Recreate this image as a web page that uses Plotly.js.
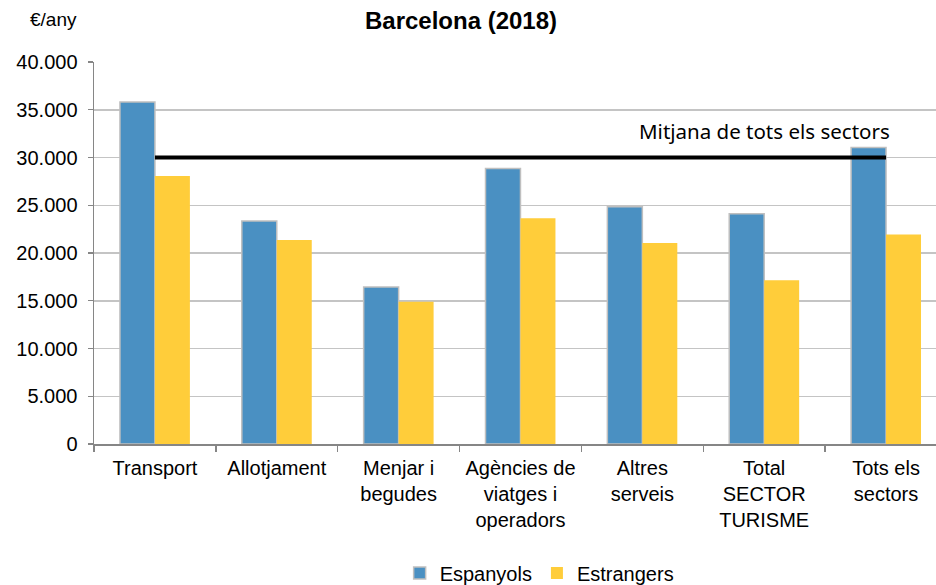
<!DOCTYPE html>
<html>
<head>
<meta charset="utf-8">
<script src="https://cdn.plot.ly/plotly-3.0.1.min.js"></script>
<style>html,body{margin:0;padding:0;background:#fff}#chart{width:936px;height:585px}</style>
</head>
<body>
<div id="chart"></div>
<script>
var categories = ["Transport", "Allotjament", "Menjar i<br>begudes", "Agències de<br>viatges i<br>operadors", "Altres<br>serveis", "Total<br>SECTOR<br>TURISME", "Tots els<br>sectors"];
var espanyols = [35800, 23350, 16450, 28850, 24850, 24100, 31050];
var estrangers = [28050, 21350, 14900, 23650, 21050, 17150, 21950];
var meanValue = 30000;
var meanLabel = "Mitjana de tots els sectors";
var seriesNames = ["Espanyols", "Estrangers"];
var titleText = "<b>Barcelona (2018)</b>";
var unitText = "€/any";

var font = "Liberation Sans, Arial, sans-serif";

var traces = [
  {type: "bar", name: seriesNames[0], x: categories, y: espanyols,
   marker: {color: "#4a90c2", line: {color: "#bfbfbf", width: 1.5}}},
  {type: "bar", name: seriesNames[1], x: categories, y: estrangers,
   marker: {color: "#ffcd3a", line: {width: 0}}},
  {type: "scatter", mode: "lines", x: [categories[0], categories[categories.length - 1]],
   y: [meanValue, meanValue], line: {color: "#000", width: 4}, showlegend: false, hoverinfo: "skip"}
];

var layout = {
  width: 936, height: 585,
  margin: {l: 94, r: 0, t: 62, b: 141, autoexpand: false},
  paper_bgcolor: "#fff", plot_bgcolor: "#fff",
  separators: ",.",
  font: {family: font, size: 20, color: "#000"},
  barmode: "group", bargap: 0.426, bargroupgap: 0,
  showlegend: true,
  legend: {orientation: "h", x: 0.363, xanchor: "left", y: -0.338, yanchor: "middle",
           font: {family: font, size: 20}, itemwidth: 30, traceorder: "normal"},
  xaxis: {type: "category", range: [-0.5, 6.41], showgrid: false, automargin: false,
          showline: true, linecolor: "#868686", linewidth: 1.5,
          ticks: "outside", tickson: "boundaries", ticklen: 6, tickcolor: "#868686", tickwidth: 1.3,
          ticklabelstandoff: 5,
          tickfont: {family: font, size: 20}, fixedrange: true},
  yaxis: {range: [0, 40000], tick0: 0, dtick: 5000, tickformat: ",d", automargin: false,
          showgrid: true, gridcolor: "#c4c4c4", gridwidth: 1.5, zeroline: false,
          showline: true, linecolor: "#868686", linewidth: 1.5,
          ticks: "outside", ticklen: 5, tickcolor: "#868686", tickwidth: 1.3,
          ticklabelstandoff: 6,
          tickfont: {family: font, size: 20}, fixedrange: true},
  title: {text: titleText, x: 461 / 936, xanchor: "center", y: 1 - 21 / 585, yanchor: "middle",
          automargin: false,
          font: {family: font, size: 24, color: "#000"}},
  annotations: [
    {text: unitText, xref: "paper", yref: "paper", x: (53 - 94) / 842, y: 1 + (62 - 20) / 382,
     xanchor: "center", yanchor: "middle", showarrow: false, font: {family: font, size: 19}},
    {text: meanLabel, xref: "paper", yref: "paper", x: (892 - 94) / 842, y: (444 - 131) / 382,
     xanchor: "right", yanchor: "middle",
     showarrow: false, font: {family: "Noto Sans, Open Sans, sans-serif", size: 20.5, color: "#000"}}
  ]
};

Plotly.newPlot("chart", traces, layout, {displayModeBar: false, staticPlot: true});
</script>
</body>
</html>
